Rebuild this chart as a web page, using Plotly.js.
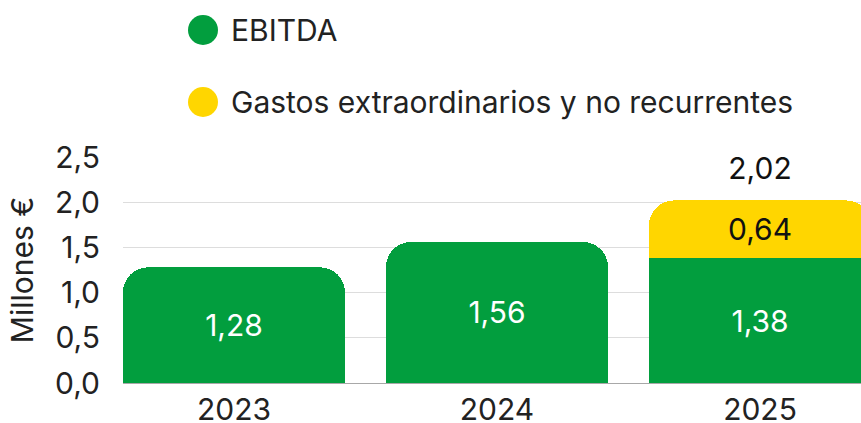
<!DOCTYPE html>
<html>
<head>
<meta charset="utf-8">
<script src="https://cdn.plot.ly/plotly-3.0.1.min.js"></script>
<style>html,body{margin:0;padding:0;background:#fff;}#chart{width:861px;height:423px;}</style>
</head>
<body>
<div id="chart"></div>
<script>
var categories = ['2023', '2024', '2025'];
var seriesNames = ['EBITDA', 'Gastos extraordinarios y no recurrentes'];
var ebitda = [1.28, 1.56, 1.38];
var gastos = [null, null, 0.64];
var totalCategory = ['2025'];
var totalValue = [2.02];
var yTickVals = [0, 0.5, 1.0, 1.5, 2.0, 2.5];

var green = '#029e3e';
var yellow = '#ffd600';
var font = 'Inter, "Noto Sans", sans-serif';
var textColor = '#222222';
var fs = 30;

var traces = [
  {
    type: 'bar', x: categories, y: ebitda, name: seriesNames[0],
    marker: {color: green},
    texttemplate: '%{y:.2f}', textposition: 'inside', insidetextanchor: 'middle',
    textfont: {family: font, size: fs, color: '#ffffff'},
    constraintext: 'none',
    showlegend: false, hoverinfo: 'skip'
  },
  {
    type: 'bar', x: categories, y: gastos, name: seriesNames[1],
    marker: {color: yellow},
    texttemplate: '%{y:.2f}', textposition: 'inside', insidetextanchor: 'middle',
    textfont: {family: font, size: fs, color: '#111111'},
    constraintext: 'none',
    showlegend: false, hoverinfo: 'skip'
  },
  {
    type: 'scatter', mode: 'markers+text', x: totalCategory, y: totalValue,
    texttemplate: '%{y:.2f}', textposition: 'top center',
    marker: {size: 20, opacity: 0},
    textfont: {family: font, size: fs, color: '#111111'},
    cliponaxis: false, showlegend: false, hoverinfo: 'skip'
  }
];

// legend drawn as circles + text (pixel positions mapped to paper coords)
var L = 123, R = 0, T = 157, B = 40, W = 861, H = 423;
var pw = W - L - R, ph = H - T - B;
function px(x) { return (x - L) / pw; }
function py(y) { return (H - B - y) / ph; }
var legendColors = [green, yellow];
var legendY = [30, 102];
var shapes = [], annotations = [];
for (var i = 0; i < seriesNames.length; i++) {
  shapes.push({
    type: 'circle', xref: 'paper', yref: 'paper',
    xsizemode: 'pixel', ysizemode: 'pixel',
    xanchor: px(203), yanchor: py(legendY[i]),
    x0: -15, x1: 15, y0: -15, y1: 15,
    fillcolor: legendColors[i], line: {width: 0}
  });
  annotations.push({
    xref: 'paper', yref: 'paper', x: px(229), y: py(legendY[i]),
    xanchor: 'left', yanchor: 'middle', showarrow: false,
    text: seriesNames[i], font: {family: font, size: fs, color: textColor}
  });
}

var layout = {
  width: W, height: H,
  margin: {l: L, r: R, t: T, b: B, pad: 0},
  paper_bgcolor: '#ffffff', plot_bgcolor: '#ffffff',
  separators: ',.',
  barmode: 'stack', bargap: 0.156, barcornerradius: 25,
  showlegend: false,
  font: {family: font, size: fs, color: textColor},
  xaxis: {
    type: 'category', range: [-0.422, 2.384],
    showgrid: false, zeroline: false,
    showline: true, linecolor: '#a8a8a8', linewidth: 1,
    ticks: '', tickfont: {family: font, size: fs, color: textColor},
    fixedrange: true
  },
  yaxis: {
    range: [0, 2.5], tickvals: yTickVals, tickformat: '.1f',
    showgrid: true, gridcolor: '#dddddd', gridwidth: 1,
    zeroline: false, showline: false, ticks: '',
    ticklabelstandoff: 22,
    tickfont: {family: font, size: fs, color: textColor},
    title: {text: 'Millones €', standoff: 12, font: {family: font, size: fs, color: textColor}},
    automargin: false, fixedrange: true
  },
  shapes: shapes,
  annotations: annotations
};

Plotly.newPlot('chart', traces, layout, {displayModeBar: false, staticPlot: true});
</script>
</body>
</html>
